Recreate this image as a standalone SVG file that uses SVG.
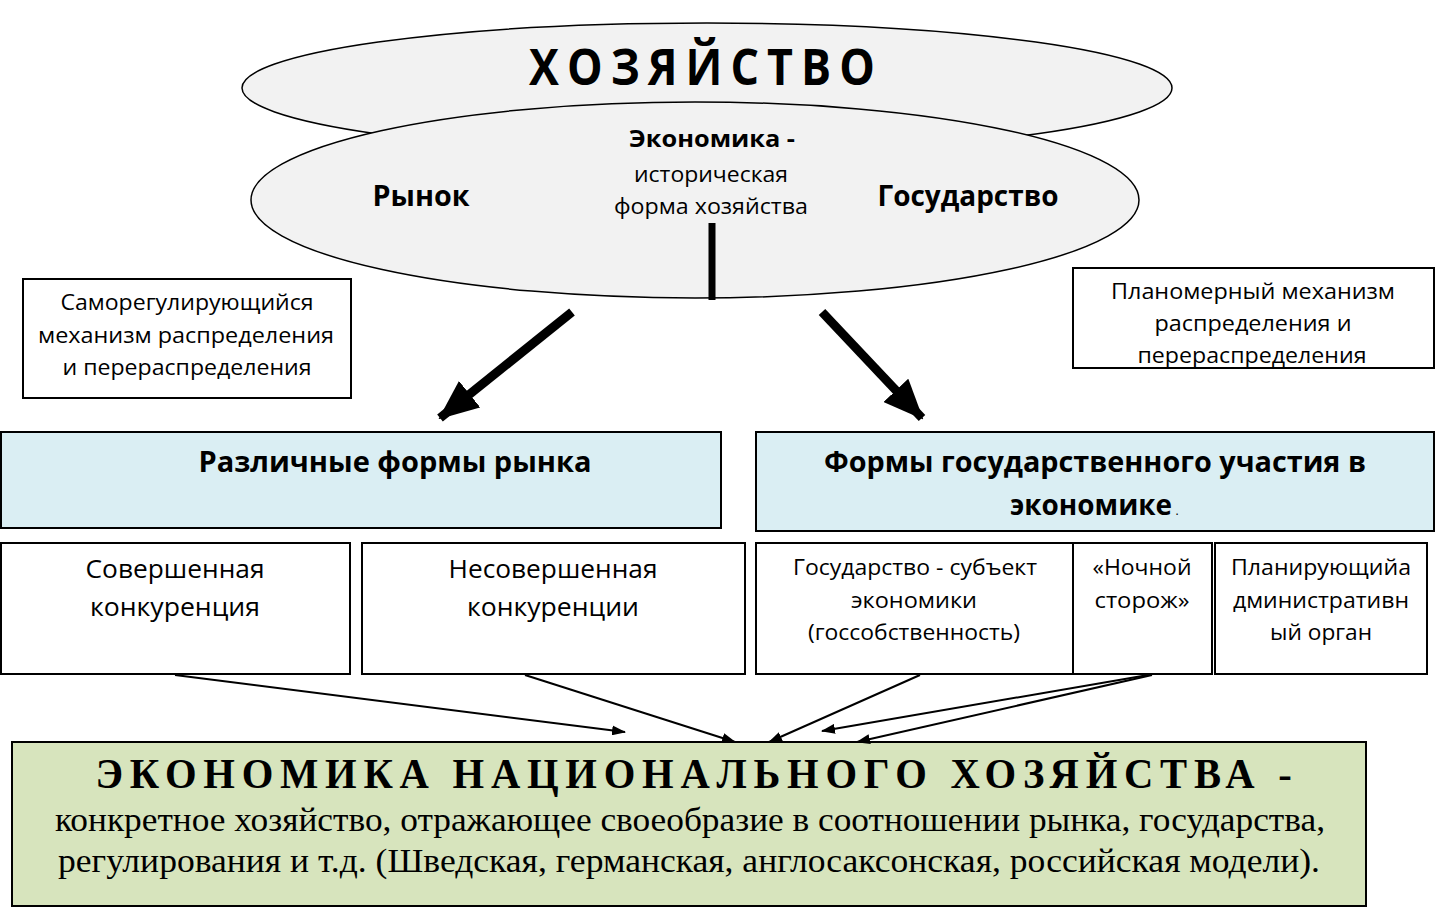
<svg xmlns="http://www.w3.org/2000/svg" width="1435" height="908" viewBox="0 0 1435 908">
<style>
.s{font-family:"Open Sans","DejaVu Sans",sans-serif;fill:#000;text-anchor:middle}
.b{font-weight:bold}
.r{font-family:"Liberation Serif","Times New Roman",serif;fill:#000;text-anchor:middle}
.box{fill:#fff;stroke:#000;stroke-width:2}
.blue{fill:#daeef3;stroke:#000;stroke-width:2}
.ell{fill:#f2f2f2;stroke:#000;stroke-width:1.5}
.thin{stroke:#000;stroke-width:2;fill:none;marker-end:url(#ah)}
.thick{stroke:#000;stroke-width:9;fill:none;marker-end:url(#AH)}
</style>
<defs>
<marker id="ah" markerWidth="14" markerHeight="10" refX="13" refY="5" orient="auto" markerUnits="userSpaceOnUse"><path d="M0,0 L14,5 L0,10 z" fill="#000"/></marker>
<marker id="AH" markerWidth="40" markerHeight="34" refX="38" refY="17" orient="auto" markerUnits="userSpaceOnUse"><path d="M0,0 L40,17 L0,34 z" fill="#000"/></marker>
</defs>
<rect width="1435" height="908" fill="#fff"/>

<g id="hoz">
<ellipse class="ell" cx="707" cy="88" rx="465" ry="65"/>
<text class="s b" x="706" y="85" font-size="50" letter-spacing="9" textLength="354" lengthAdjust="spacingAndGlyphs">ХОЗЯЙСТВО</text>
</g>
<g id="econ">
<ellipse class="ell" cx="695" cy="200" rx="444" ry="98"/>
<text class="s b" x="712" y="147" font-size="23" textLength="166" lengthAdjust="spacingAndGlyphs">Экономика -</text>
<text class="s" x="711" y="182" font-size="22" textLength="154" lengthAdjust="spacingAndGlyphs">историческая</text>
<text class="s" x="711" y="214" font-size="22" textLength="194" lengthAdjust="spacingAndGlyphs">форма хозяйства</text>
<text class="s b" x="421" y="206" font-size="28" textLength="97" lengthAdjust="spacingAndGlyphs">Рынок</text>
<text class="s b" x="968" y="206" font-size="28" textLength="181" lengthAdjust="spacingAndGlyphs">Государство</text>
</g>

<g id="selfreg">
<rect class="box" x="23" y="279" width="328" height="119"/>
<text class="s" x="187" y="310" font-size="22" textLength="253" lengthAdjust="spacingAndGlyphs">Саморегулирующийся</text>
<text class="s" x="186" y="343" font-size="22" textLength="296" lengthAdjust="spacingAndGlyphs">механизм распределения</text>
<text class="s" x="187" y="375" font-size="22" textLength="249" lengthAdjust="spacingAndGlyphs">и перераспределения</text>
</g>
<g id="planned">
<rect class="box" x="1073" y="268" width="361" height="100"/>
<text class="s" x="1253" y="299" font-size="22" textLength="284" lengthAdjust="spacingAndGlyphs">Планомерный механизм</text>
<text class="s" x="1253" y="331" font-size="22" textLength="197" lengthAdjust="spacingAndGlyphs">распределения и</text>
<text class="s" x="1252" y="363" font-size="22" textLength="229" lengthAdjust="spacingAndGlyphs">перераспределения</text>
</g>

<g id="marketforms">
<rect class="blue" x="1" y="432" width="720" height="96"/>
<text class="s b" x="395" y="472" font-size="28" textLength="393" lengthAdjust="spacingAndGlyphs">Различные формы рынка</text>
</g>
<g id="stateforms">
<rect class="blue" x="756" y="432" width="678" height="99"/>
<text class="s b" x="1095" y="472" font-size="28" textLength="542" lengthAdjust="spacingAndGlyphs">Формы государственного участия в</text>
<text class="s b" x="1091" y="515" font-size="28" textLength="162" lengthAdjust="spacingAndGlyphs">экономике</text>
<text class="s" x="1177" y="515" font-size="12">.</text>
</g>

<g id="perfect">
<rect class="box" x="1" y="543" width="349" height="131"/>
<text class="s" x="175" y="578" font-size="26" textLength="179" lengthAdjust="spacingAndGlyphs">Совершенная</text>
<text class="s" x="175" y="616" font-size="26" textLength="170" lengthAdjust="spacingAndGlyphs">конкуренция</text>
</g>
<g id="imperfect">
<rect class="box" x="362" y="543" width="383" height="131"/>
<text class="s" x="553" y="578" font-size="26" textLength="209" lengthAdjust="spacingAndGlyphs">Несовершенная</text>
<text class="s" x="553" y="616" font-size="26" textLength="172" lengthAdjust="spacingAndGlyphs">конкуренции</text>
</g>
<g id="subject">
<rect class="box" x="756" y="543" width="317" height="131"/>
<text class="s" x="915" y="575" font-size="22" textLength="244" lengthAdjust="spacingAndGlyphs">Государство - субъект</text>
<text class="s" x="914" y="608" font-size="22" textLength="126" lengthAdjust="spacingAndGlyphs">экономики</text>
<text class="s" x="914" y="640" font-size="22" textLength="212" lengthAdjust="spacingAndGlyphs">(госсобственность)</text>
</g>
<g id="watchman">
<rect class="box" x="1073" y="543" width="139" height="131"/>
<text class="s" x="1142" y="575" font-size="22" textLength="99" lengthAdjust="spacingAndGlyphs">«Ночной</text>
<text class="s" x="1142" y="608" font-size="22" textLength="95" lengthAdjust="spacingAndGlyphs">сторож»</text>
</g>
<g id="planner">
<rect class="box" x="1215" y="543" width="212" height="131"/>
<text class="s" x="1321" y="575" font-size="22" textLength="180" lengthAdjust="spacingAndGlyphs">Планирующийа</text>
<text class="s" x="1321" y="608" font-size="22" textLength="176" lengthAdjust="spacingAndGlyphs">дминистративн</text>
<text class="s" x="1321" y="640" font-size="22" textLength="102" lengthAdjust="spacingAndGlyphs">ый орган</text>
</g>

<g id="national">
<rect x="12" y="742" width="1354" height="164" fill="#d7e4bd" stroke="#000" stroke-width="2"/>
<text class="r b" x="697" y="788" font-size="42" letter-spacing="7" textLength="1203" lengthAdjust="spacingAndGlyphs">ЭКОНОМИКА НАЦИОНАЛЬНОГО ХОЗЯЙСТВА -</text>
<text class="r" x="690" y="831" font-size="33" textLength="1270" lengthAdjust="spacingAndGlyphs">конкретное хозяйство, отражающее своеобразие в соотношении рынка, государства,</text>
<text class="r" x="689" y="872" font-size="33" textLength="1262" lengthAdjust="spacingAndGlyphs">регулирования и т.д.  (Шведская, германская, англосаксонская, российская модели).</text>
</g>

<g id="connectors">
<line x1="712" y1="223" x2="712" y2="300" stroke="#000" stroke-width="7"/>
<line class="thick" x1="572" y1="312" x2="440" y2="418"/>
<line class="thick" x1="822" y1="312" x2="922" y2="418"/>
<line class="thin" x1="175" y1="675" x2="625" y2="732"/>
<line class="thin" x1="525" y1="675" x2="735" y2="742"/>
<line class="thin" x1="920" y1="675" x2="769" y2="742"/>
<line class="thin" x1="1148" y1="675" x2="822" y2="731"/>
<line class="thin" x1="1152" y1="675" x2="857" y2="742"/>
</g>
</svg>
